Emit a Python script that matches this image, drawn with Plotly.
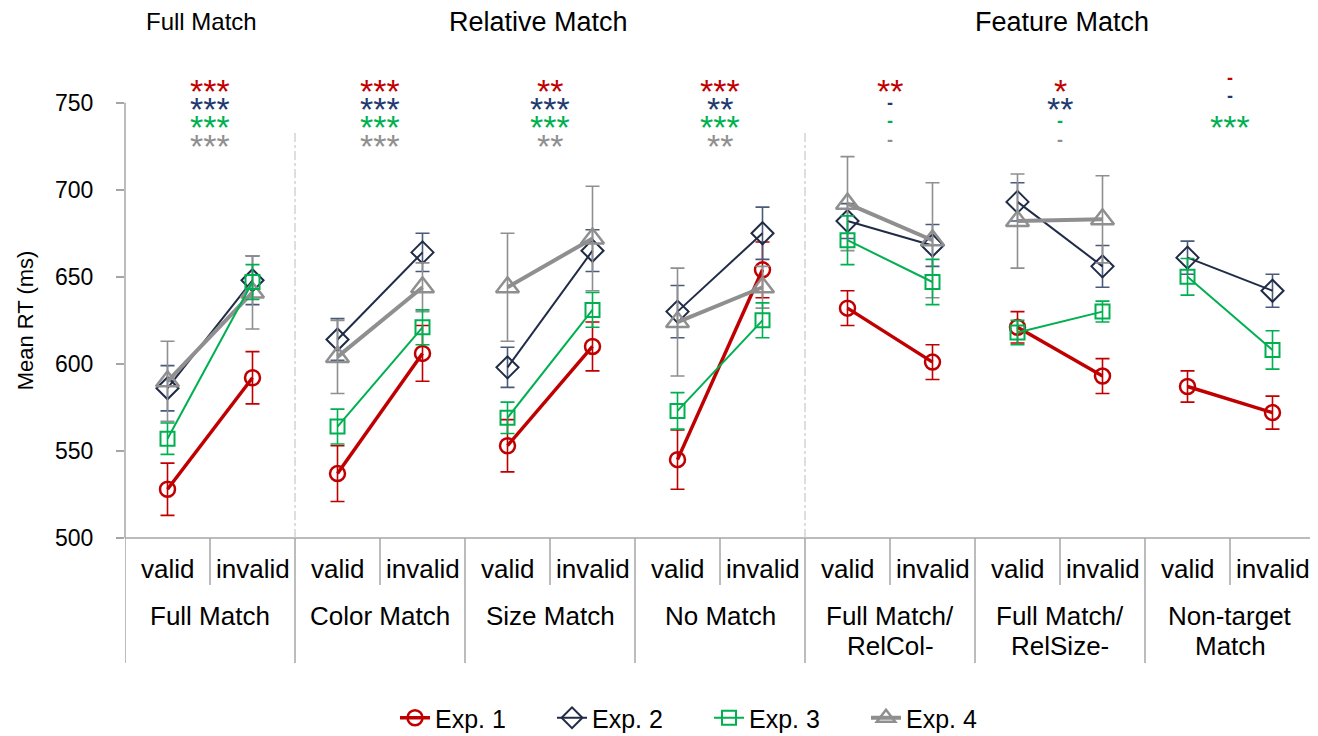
import plotly.graph_objects as go

# ---------------- data ----------------
groups = ["Full Match", "Color Match", "Size Match", "No Match",
          "Full Match/<br>RelCol-", "Full Match/<br>RelSize-", "Non-target<br>Match"]
validity = ["valid", "invalid"]
top_titles = ["Full Match", "Relative Match", "Feature Match"]

exp1 = [528, 592, 537, 606, 553, 610, 545, 654, 632, 601, 621, 593, 587, 572]
exp1_err = [15, 15, 16, 16, 15, 14, 17, 16, 10, 10, 9, 10, 9, 9.5]
exp2 = [586, 648, 614, 664, 598, 665, 630, 675, 682, 668, 693, 656, 661, 642]
exp2_err = [13, 14, 12, 11, 11.5, 12, 15, 15, 10, 12, 11, 12, 9.5, 9.5]
exp3 = [557, 647, 564, 621, 569, 631, 573, 625, 671, 647, 618, 630, 650, 608]
exp3_err = [9, 10, 10, 10, 9, 10, 10.5, 10, 14, 13, 7, 6, 10.5, 11]
exp4 = [590, 641, 604, 644, 644, 672, 624, 644, 692, 671, 682, 683, None, None]
exp4_err = [23, 21, 21, 14, 31, 30, 31, 12, 27, 33, 27, 25, None, None]

sig1 = ["***", "***", "**", "***", "**", "*", "-"]
sig2 = ["***", "***", "***", "**", "-", "**", "-"]
sig3 = ["***", "***", "***", "***", "-", "-", "***"]
sig4 = ["***", "***", "**", "**", "-", "-", ""]

yticks = [500, 550, 600, 650, 700, 750]

# ---------------- layout geometry ----------------
# the page has an 8px body margin, so the figure is drawn 8px smaller
OFF = 8
W, H = 1318 - OFF, 736 - OFF
L, R, T, B = 125 - OFF, 3, 33 - OFF, 198
PW, PH = W - L - R, H - T - B
YMIN, YMAX = 500, 790
FONT = "Liberation Sans, Arial, sans-serif"
PLOT_LEFT, PLOT_BOTTOM = 125, 538  # target-page pixels


def px_x(p):
    return (p - PLOT_LEFT) / PW


def px_y(p):
    return (PLOT_BOTTOM - p) / PH


n = len(groups) * 2
xs = list(range(n))

RED = "#C00000"
NAVY = "#1F2B47"
NAVY_ERR = "#4A5A7A"
GREEN = "#00B050"
GRAY = "#8F8F8F"

fig = go.Figure()

series = [
    ("Exp. 1", exp1, exp1_err, RED, RED, "circle-open", 15, 3.5, 1),
    ("Exp. 2", exp2, exp2_err, NAVY, NAVY_ERR, "diamond-open", 17, 2, 2),
    ("Exp. 4", exp4, exp4_err, GRAY, GRAY, "triangle-up-open", 20, 4, 4),
    ("Exp. 3", exp3, exp3_err, GREEN, GREEN, "square-open", 14, 2, 3),
]

for name, vals, errs, col, ecol, sym, size, lw, rank in series:
    for g in range(len(groups)):
        i0, i1 = 2 * g, 2 * g + 1
        if vals[i0] is None:
            continue
        fig.add_trace(go.Scatter(
            x=[xs[i0], xs[i1]], y=[vals[i0], vals[i1]],
            mode="lines+markers", name=name, legendgroup=name,
            showlegend=(g == 0), legendrank=rank,
            line=dict(color=col, width=lw),
            marker=dict(symbol=sym, size=size, color=col,
                        line=dict(color=col, width=2.5 if lw > 2 else 2)),
            error_y=dict(type="data", array=[errs[i0], errs[i1]], visible=True,
                         color=ecol, thickness=1.6, width=7),
            cliponaxis=False,
        ))

# ---------------- shapes: axes, table, separators ----------------
shapes = []
AX = "#A6A6A6"
shapes.append(dict(type="line", xref="paper", yref="y", x0=0, x1=0, y0=500, y1=750,
                   line=dict(color=AX, width=1.5)))
shapes.append(dict(type="line", xref="paper", yref="paper", x0=0, x1=1, y0=0, y1=0,
                   line=dict(color=AX, width=1.5)))
for g in range(len(groups)):
    xb = 2 * g - 0.5
    shapes.append(dict(type="line", xref="x", yref="paper", x0=xb, x1=xb,
                       y0=0, y1=px_y(663), line=dict(color=AX, width=1.5)))
    xm = 2 * g + 0.5
    shapes.append(dict(type="line", xref="x", yref="paper", x0=xm, x1=xm,
                       y0=0, y1=px_y(585), line=dict(color=AX, width=1.5)))
for xb in [1.5, 7.5]:
    shapes.append(dict(type="line", xref="x", yref="y", x0=xb, x1=xb, y0=500, y1=733,
                       line=dict(color="#C8C8C8", width=1.2, dash="dashdot")))

annotations = []
TABLE_FS = 26
for i in xs:
    annotations.append(dict(x=i, y=px_y(569), xref="x", yref="paper", text=validity[i % 2],
                            showarrow=False, font=dict(family=FONT, size=TABLE_FS, color="#000"),
                            xanchor="center", yanchor="middle"))
for g, lab in enumerate(groups):
    for k, line in enumerate(lab.split("<br>")):
        annotations.append(dict(x=2 * g + 0.5, y=px_y(616 + 30 * k), xref="x", yref="paper",
                                text=line, showarrow=False,
                                font=dict(family=FONT, size=TABLE_FS, color="#000"),
                                xanchor="center", yanchor="middle"))
for lab, xp, fs in zip(top_titles, [201, 538, 1062], [24, 27, 27]):
    annotations.append(dict(x=px_x(xp), y=px_y(22), xref="paper", yref="paper", text=lab,
                            showarrow=False, font=dict(family=FONT, size=fs, color="#000"),
                            xanchor="center", yanchor="middle"))
annotations.append(dict(x=px_x(25), y=625, xref="paper", yref="y", text="Mean RT (ms)",
                        textangle=-90, showarrow=False,
                        font=dict(family=FONT, size=22, color="#000"),
                        xanchor="center", yanchor="middle"))
rows = [(sig1, RED, 85), (sig2, "#1F3A6E", 103), (sig3, GREEN, 121), (sig4, GRAY, 140)]
for sigs, col, ypx in rows:
    for g, s in enumerate(sigs):
        if not s:
            continue
        is_dash = s == "-"
        if is_dash:
            yy = ypx - 7 if g == len(sigs) - 1 else ypx
        else:
            yy = ypx + 6
        annotations.append(dict(
            x=2 * g + 0.5, y=px_y(yy), xref="x", yref="paper",
            text=("<b>-</b>" if is_dash else s), showarrow=False,
            font=dict(family=FONT, size=(18 if is_dash else 34), color=col),
            xanchor="center", yanchor="middle"))

fig.update_layout(
    width=W, height=H,
    margin=dict(l=L, r=R, t=T, b=B),
    paper_bgcolor="white", plot_bgcolor="white",
    font=dict(family=FONT, size=20, color="#000"),
    xaxis=dict(range=[-0.5, n - 0.5], showgrid=False, zeroline=False,
               showticklabels=False, ticks="", showline=False, fixedrange=True),
    yaxis=dict(range=[YMIN, YMAX], showgrid=False, zeroline=False, showline=False,
               tickvals=yticks, ticktext=[str(v) for v in yticks],
               ticks="outside", ticklen=8, tickcolor=AX, tickwidth=1.5,
               tickfont=dict(family=FONT, size=23, color="#000"), ticklabelstandoff=18),
    legend=dict(orientation="h",
                xref="container", yref="container",
                x=(709 - OFF) / W, xanchor="center",
                y=(H - (718 - OFF)) / H, yanchor="middle",
                font=dict(family=FONT, size=25, color="#000"),
                entrywidth=112, entrywidthmode="pixels",
                tracegroupgap=0, bgcolor="rgba(0,0,0,0)"),
    shapes=shapes, annotations=annotations, showlegend=True,
)

fig.write_html("out.html")
